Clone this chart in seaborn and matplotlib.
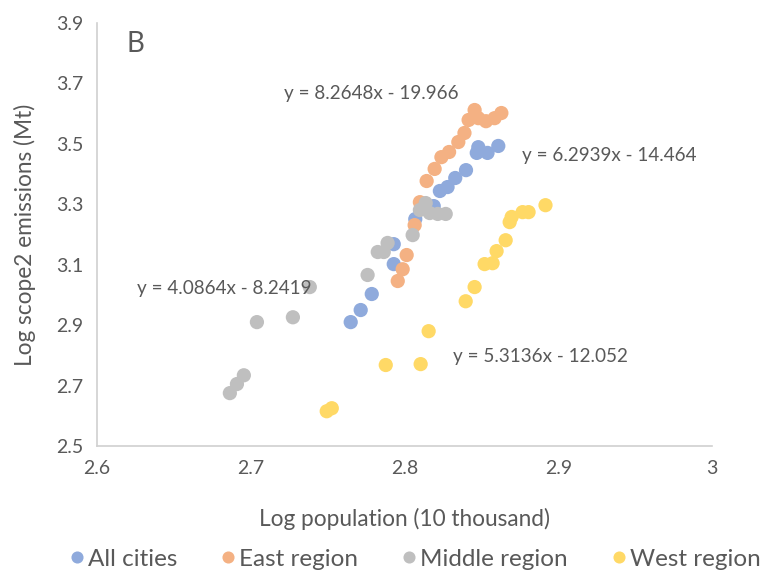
import matplotlib
matplotlib.use("Agg")
import matplotlib.pyplot as plt
import pandas as pd
import numpy as np
import seaborn as sns

# values
all_x = [2.765, 2.7715, 2.7787, 2.793, 2.793, 2.807, 2.819, 2.823, 2.828,
         2.833, 2.840, 2.847, 2.848, 2.854, 2.861]
all_y = [2.910, 2.950, 3.003, 3.102, 3.168, 3.251, 3.294, 3.344, 3.357,
         3.387, 3.413, 3.470, 3.489, 3.470, 3.493]

east_x = [2.7956, 2.7988, 2.8014, 2.8066, 2.810, 2.8144, 2.8196, 2.824, 2.829,
          2.835, 2.839, 2.8417, 2.8456, 2.848, 2.853, 2.8586, 2.863]
east_y = [3.046, 3.085, 3.132, 3.231, 3.307, 3.377, 3.417, 3.456, 3.473,
          3.506, 3.536, 3.579, 3.612, 3.585, 3.575, 3.585, 3.602]

mid_x = [2.6864, 2.691, 2.6955, 2.704, 2.7274, 2.7384, 2.776, 2.7826, 2.7865,
         2.789, 2.8053, 2.810, 2.8138, 2.8164, 2.8216, 2.8268]
mid_y = [2.675, 2.705, 2.734, 2.910, 2.926, 3.026, 3.066, 3.142, 3.142,
         3.172, 3.198, 3.281, 3.304, 3.271, 3.268, 3.268]

west_x = [2.7494, 2.7527, 2.7878, 2.8105, 2.8157, 2.8398, 2.8456, 2.8521, 2.8573,
          2.8599, 2.8658, 2.8684, 2.8697, 2.8768, 2.8807, 2.8917]
west_y = [2.615, 2.625, 2.768, 2.771, 2.880, 2.979, 3.026, 3.102, 3.105,
          3.145, 3.181, 3.241, 3.258, 3.274, 3.274, 3.297]

groups = ["All cities", "East region", "Middle region", "West region"]
colors = ["#8FAADC", "#F4B183", "#BFBFBF", "#FFD966"]

fit_texts = ["y = 8.2648x - 19.966", "y = 6.2939x - 14.464",
             "y = 4.0864x - 8.2419", "y = 5.3136x - 12.052"]

x_ticks = [2.6, 2.7, 2.8, 2.9, 3.0]
x_labels = ["2.6", "2.7", "2.8", "2.9", "3"]
y_ticks = [2.5, 2.7, 2.9, 3.1, 3.3, 3.5, 3.7, 3.9]

# build one long table, keeping series order (later series on top)
frames = []
for name, xs, ys in zip(groups, [all_x, east_x, mid_x, west_x],
                        [all_y, east_y, mid_y, west_y]):
    frames.append(pd.DataFrame({"pop": xs, "emis": ys, "group": name}))
df = pd.concat(frames, ignore_index=True)

sns.set_style("white")
plt.rcParams["font.family"] = ["Lato", "DejaVu Sans"]
txt = "#595959"

fig = plt.figure(figsize=(7.61, 5.72), dpi=100)
ax = fig.add_axes([0.1275, 0.2203, 0.8081, 0.7395])

sns.scatterplot(data=df, x="pop", y="emis", hue="group",
                palette=dict(zip(groups, colors)), s=105, linewidth=0,
                alpha=1, ax=ax, legend=True)

ax.set_xlim(2.6, 3.0)
ax.set_ylim(2.5, 3.9)
ax.set_xticks(x_ticks)
ax.set_xticklabels(x_labels)
ax.set_yticks(y_ticks)
ax.set_yticklabels([f"{v:.1f}" for v in y_ticks])
ax.tick_params(axis="both", length=0, labelsize=14, colors=txt, pad=10)

for side in ["top", "right"]:
    ax.spines[side].set_visible(False)
for side in ["left", "bottom"]:
    ax.spines[side].set_color("#D0D0D0")
    ax.spines[side].set_linewidth(1.2)

ax.set_xlabel("Log population (10 thousand)", fontsize=16.3, color=txt, labelpad=22)
ax.set_ylabel("Log scope2 emissions (Mt)", fontsize=16.3, color=txt, labelpad=14)

# panel letter and trendline equations
ax.text(2.6247, 3.830, "B", fontsize=20, color=txt, ha="center", va="center")
eq_pos = [(2.7215, 3.665), (2.8762, 3.460), (2.626, 3.0225), (2.8313, 2.797)]
for (tx, ty), label in zip(eq_pos, fit_texts):
    ax.text(tx, ty, label, fontsize=13.6, color=txt, ha="left", va="center")

handles, labels = ax.get_legend_handles_labels()
ax.get_legend().remove()
fig.legend(handles, labels, loc="center", ncol=4, frameon=False,
           bbox_to_anchor=(0.544, 0.022), fontsize=17.5, labelcolor=txt,
           handletextpad=0.05, columnspacing=1.7, markerscale=0.85,
           handlelength=0.8, borderpad=0.1)

fig.savefig("out.png", dpi=100)
